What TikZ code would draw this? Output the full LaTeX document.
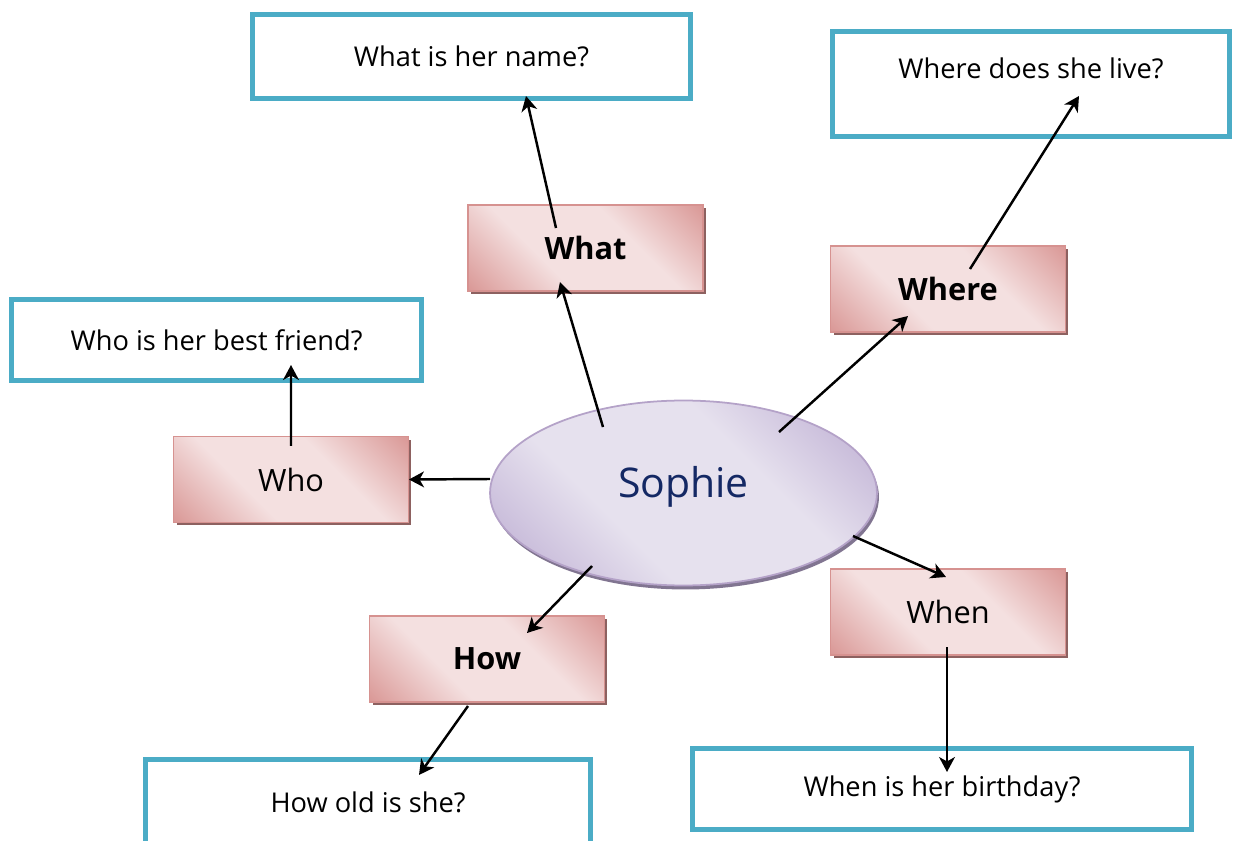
\documentclass[tikz,border=0pt]{standalone}
\usepackage{fontspec}
\setmainfont{Open Sans}
\usepackage{tikz}
\usetikzlibrary{arrows.meta, shapes.geometric, shadows, positioning}

\definecolor{pinkdark}{RGB}{217,150,148}
\definecolor{pinklight}{RGB}{244,224,224}
\definecolor{pinkline}{RGB}{214,146,144}
\definecolor{lavdark}{RGB}{184,167,207}
\definecolor{lavlight}{RGB}{230,225,238}
\definecolor{lavline}{RGB}{180,162,200}
\definecolor{qblue}{RGB}{75,172,198}
\definecolor{navy}{RGB}{20,40,100}

\pgfdeclarehorizontalshading{pinkband}{100bp}{color(0bp)=(pinkdark); color(14bp)=(pinkdark); color(38bp)=(pinklight); color(62bp)=(pinklight); color(86bp)=(pinkdark); color(100bp)=(pinkdark)}
\pgfdeclarehorizontalshading{lavband}{100bp}{color(0bp)=(lavdark); color(14bp)=(lavdark); color(38bp)=(lavlight); color(62bp)=(lavlight); color(86bp)=(lavdark); color(100bp)=(lavdark)}

\begin{document}
\begin{tikzpicture}[x=0.02cm,y=-0.02cm,>={Stealth[length=8.5pt,width=9pt,inset=2.5pt]}]
  \tikzstyle{topic}=[rectangle, draw=pinkline, line width=0.8pt, shading=pinkband, shading angle=45,
    minimum width=4.7cm, minimum height=1.72cm, font=\fontsize{17.5}{21}\selectfont,
    drop shadow={shadow xshift=0.06cm, shadow yshift=-0.06cm, fill=black!35!pinkdark, opacity=1}]
  \tikzstyle{question}=[rectangle, draw=qblue, line width=3pt, fill=white,
    minimum height=1.64cm, font=\fontsize{15.5}{18}\selectfont]

  \useasboundingbox (0,0) rectangle (1235,841);

  % centre
  \node[ellipse, draw=lavline, line width=1pt, shading=lavband, shading angle=45,
    minimum width=7.74cm, minimum height=3.7cm, text=navy, font=\fontsize{23.3}{28}\selectfont,
    text depth=13pt,
    drop shadow={shadow xshift=0.04cm, shadow yshift=-0.08cm, fill=black!30!lavdark, opacity=1}]
    (sophie) at (683.5,493) {Sophie};

  % question words
  \node[topic](what) at (585.5,248) {\bfseries What};
  \node[topic](where) at (948,289) {\bfseries Where};
  \node[topic](who) at (291,479.5) {Who};
  \node[topic](how) at (487,659) {\bfseries How};
  \node[topic](when) at (948,612) {When};

  % questions
  \node[question, minimum width=8.76cm, minimum height=1.68cm](name) at (471.5,56.5) {What is her name?};
  \node[question, minimum width=7.94cm, minimum height=2.1cm, text height=1.6ex, text depth=0.5ex+0.44cm](live) at (1031,84) {Where does she live?};
  \node[question, minimum width=8.2cm, minimum height=1.62cm](friend) at (216.5,340) {Who is her best friend?};
  \node[question, minimum width=8.9cm, minimum height=1.7cm](old) at (368,802) {How old is she?};
  \node[question, minimum width=9.98cm, minimum height=1.62cm](birthday) at (942,789) {When is her birthday?};

  \path[->, line width=1.4pt]
  ([shift={(-80.5,-66)}]sophie.center) edge ([shift={(-25.5,34)}]what.center)
  ([shift={(95.5,-61)}]sophie.center)  edge ([shift={(-40,27)}]where.center)
  ([shift={(-193.5,-14)}]sophie.center) edge ([shift={(118,0)}]who.center)
  ([shift={(-91.5,73)}]sophie.center)  edge ([shift={(40,-26)}]how.center)
  ([shift={(169.5,43)}]sophie.center)  edge ([shift={(-2,-35)}]when.center)
  ([shift={(-29.5,-20)}]what.center)   edge ([shift={(54.5,39.5)}]name.center)
  ([shift={(22,-20)}]where.center)     edge ([shift={(48,12)}]live.center)
  ([shift={(0,-33.5)}]who.center)      edge ([shift={(74.5,25)}]friend.center)
  ([shift={(-19,47)}]how.center)       edge ([shift={(51,-27)}]old.center)
  ([shift={(-1,35)}]when.center)       edge ([shift={(5,-17)}]birthday.center);
\end{tikzpicture}
\end{document}
